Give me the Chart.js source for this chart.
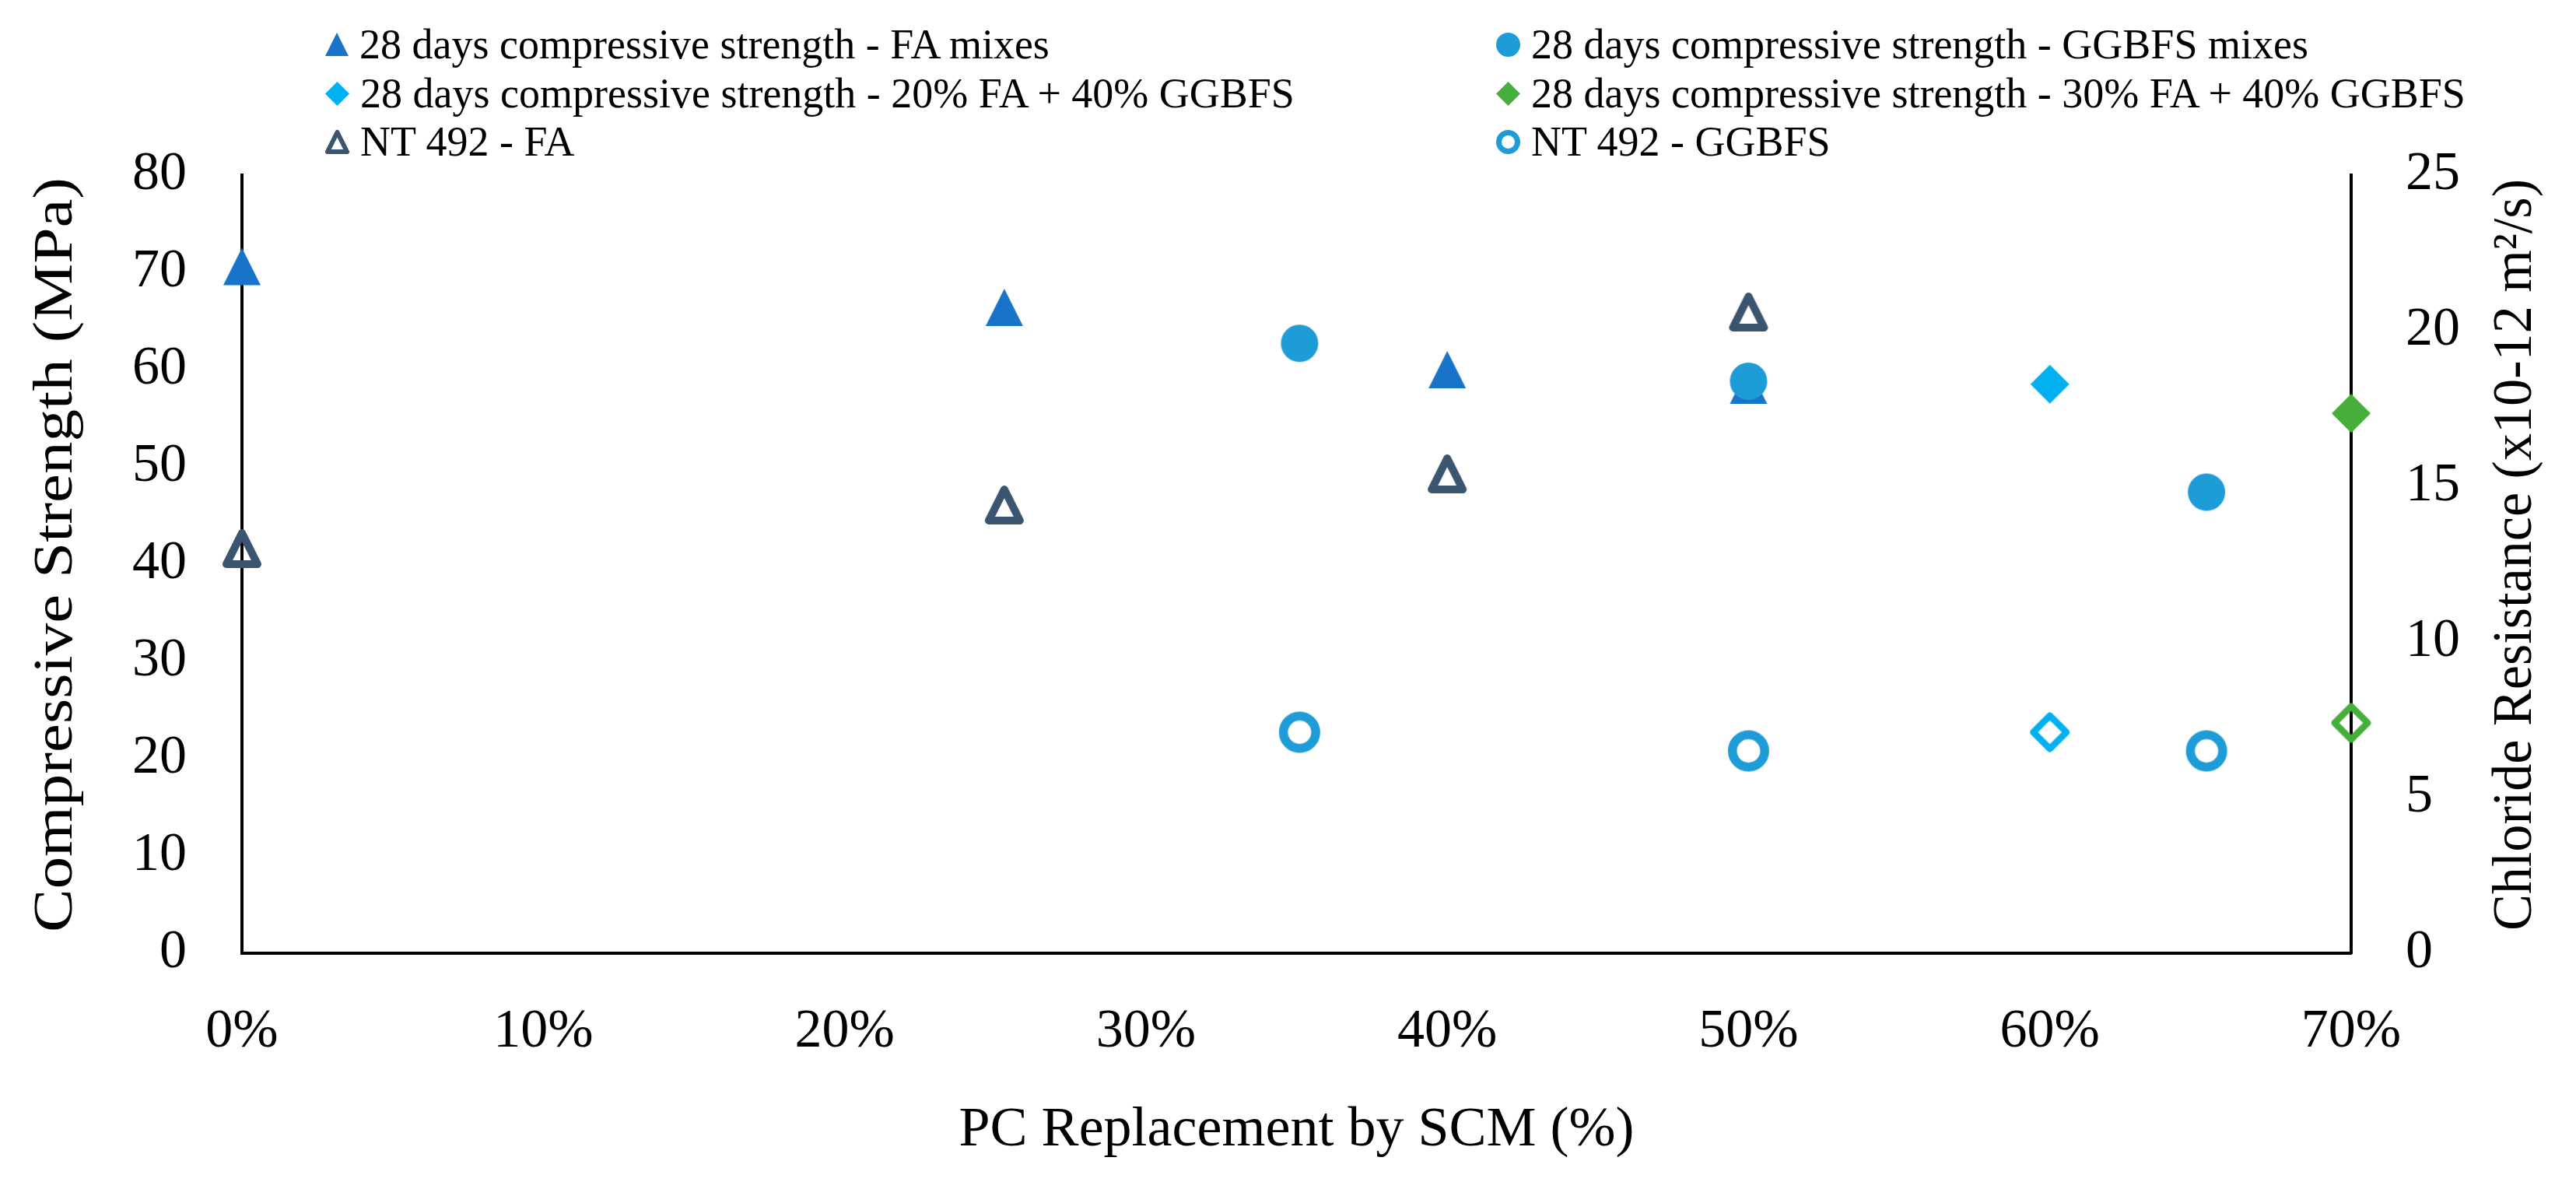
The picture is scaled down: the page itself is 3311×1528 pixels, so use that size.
<!DOCTYPE html>
<html>
<head>
<meta charset="utf-8">
<script src="https://cdn.jsdelivr.net/npm/chart.js@4.4.1/dist/chart.umd.min.js"></script>
<style>
  html, body { margin: 0; padding: 0; background: #fff; }
  #wrap { position: relative; width: 3311px; height: 1528px; }
  #legend { position: absolute; left: 0; top: 0; width: 3311px; height: 225px;
            font-family: "Liberation Serif", serif; font-size: 54px; color: #000; }
  .item { position: absolute; height: 60px; line-height: 60px; white-space: nowrap;
          display: flex; align-items: center; }
  .item img { display: block; margin-right: 12px; }
</style>
</head>
<body>
<div id="wrap">
  <canvas id="grafico"></canvas>
  <div id="legend"></div>
</div>
<script>
// --- data (x = fraction replaced) ---
const faX = [0, 0.253, 0.40, 0.50];
const faStrength = [70.6, 66.4, 60.0, 58.4];
const faChloride = [13.0, 14.4, 15.4, 20.6];

const ggbfsX = [0.351, 0.50, 0.652];
const ggbfsStrength = [62.7, 58.8, 47.4];
const ggbfsChloride = [7.1, 6.5, 6.5];

const blend20X = [0.60];
const blend20Strength = [58.5];
const blend20Chloride = [7.1];

const blend30X = [0.70];
const blend30Strength = [55.5];
const blend30Chloride = [7.4];

const xTickLabels = ["0%", "10%", "20%", "30%", "40%", "50%", "60%", "70%"];
const leftTickLabels = ["0", "10", "20", "30", "40", "50", "60", "70", "80"];
const rightTickLabels = ["0", "5", "10", "15", "20", "25"];

const xTitle = "PC Replacement by SCM (%)";
const leftTitle = "Compressive Strength (MPa)";
const rightTitle = "Chloride Resistance (x10-12 m\u00B2/s)";

// colours
const cFA = "#1874C8";
const cGGBFS = "#1E9CD7";
const cBlend20 = "#00B0F0";
const cBlend30 = "#46AE3B";
const cNTFA = "#3B5470";

// marker drawn into a small canvas, so it sits centred on the point like Excel does
function marker(shape, color, size, hollow, lw) {
  const pad = 2;
  const c = document.createElement("canvas");
  c.width = size + pad * 2;
  c.height = size + pad * 2;
  const g = c.getContext("2d");
  const m = size / 2 + pad;
  const r = size / 2 - (hollow ? lw / 2 : 0);
  g.beginPath();
  if (shape === "triangle") {
    g.moveTo(m, m - r);
    g.lineTo(m + r, m + r);
    g.lineTo(m - r, m + r);
    g.closePath();
  } else if (shape === "circle") {
    g.arc(m, m, r, 0, Math.PI * 2);
  } else {
    g.moveTo(m, m - r);
    g.lineTo(m + r, m);
    g.lineTo(m, m + r);
    g.lineTo(m - r, m);
    g.closePath();
  }
  if (hollow) {
    g.lineWidth = lw;
    g.lineJoin = "round";
    g.strokeStyle = color;
    g.stroke();
  } else {
    g.fillStyle = color;
    g.fill();
  }
  return c;
}

function pts(xs, ys) {
  return xs.map((x, i) => ({ x: x, y: ys[i] }));
}

function serie(label, xs, ys, axis, style, order, inLegend) {
  return {
    label: label,
    data: pts(xs, ys),
    yAxisID: axis,
    pointStyle: style,
    pointRadius: 20,
    pointHoverRadius: 20,
    showLine: false,
    clip: false,
    order: order,
    inLegend: inLegend
  };
}

const datasets = [
  serie("28 days compressive strength - FA mixes", faX, faStrength, "y",
        marker("triangle", cFA, 48, false), 5, true),
  serie("28 days compressive strength - GGBFS mixes", ggbfsX, ggbfsStrength, "y",
        marker("circle", cGGBFS, 48, false), 1, true),
  serie("28 days compressive strength - 20% FA + 40% GGBFS", blend20X, blend20Strength, "y",
        marker("diamond", cBlend20, 50, false), 1, true),
  serie("28 days compressive strength - 30% FA + 40% GGBFS", blend30X, blend30Strength, "y",
        marker("diamond", cBlend30, 50, false), 1, true),
  serie("NT 492 - FA", faX, faChloride, "y2",
        marker("triangle", cNTFA, 50, true, 10), 1, true),
  serie("NT 492 - GGBFS", ggbfsX, ggbfsChloride, "y2",
        marker("circle", cGGBFS, 53, true, 11.5), 1, true),
  serie("NT 492 - 20% FA + 40% GGBFS", blend20X, blend20Chloride, "y2",
        marker("diamond", cBlend20, 51, true, 8.5), 1, false),
  serie("NT 492 - 30% FA + 40% GGBFS", blend30X, blend30Chloride, "y2",
        marker("diamond", cBlend30, 51, true, 8.5), 1, false)
];

// legend (two columns, three rows) with smaller copies of the markers
const legendMarks = [
  marker("triangle", cFA, 30, false),
  marker("circle", cGGBFS, 31, false),
  marker("diamond", cBlend20, 31, false),
  marker("diamond", cBlend30, 31, false),
  marker("triangle", cNTFA, 31, true, 6),
  marker("circle", cGGBFS, 31, true, 7)
];
const legendCols = [416, 1921];
const legendRows = [57, 120, 182];
const legendBox = document.getElementById("legend");
datasets.filter(d => d.inLegend).forEach((d, i) => {
  const item = document.createElement("div");
  item.className = "item";
  item.style.left = legendCols[i % 2] + "px";
  item.style.top = (legendRows[Math.floor(i / 2)] - 30) + "px";
  const img = document.createElement("img");
  img.src = legendMarks[i].toDataURL();
  const span = document.createElement("span");
  span.textContent = d.label;
  item.appendChild(img);
  item.appendChild(span);
  legendBox.appendChild(item);
});

// rotated axis titles, both reading bottom to top
const yTitles = {
  id: "yTitles",
  afterDraw(chart) {
    const ctx = chart.ctx;
    const a = chart.chartArea;
    ctx.save();
    ctx.font = '72px "Liberation Serif"';
    ctx.fillStyle = "#000";
    ctx.textAlign = "center";
    ctx.textBaseline = "middle";
    [[73, leftTitle, 970], [3234, rightTitle, 966]].forEach(([x, t, len]) => {
      const w = ctx.measureText(t).width;
      ctx.save();
      ctx.translate(x, (a.top + a.bottom) / 2 - 12);
      ctx.rotate(-Math.PI / 2);
      ctx.scale(len / w, 1);
      ctx.fillText(t, 0, 0);
      ctx.restore();
    });
    ctx.restore();
  }
};

const tickFont = { family: "Liberation Serif", size: 70 };
const axisBorder = { display: true, color: "#000", width: 4 };

new Chart(document.getElementById("grafico"), {
  type: "scatter",
  data: { datasets: datasets },
  options: {
    responsive: true,
    maintainAspectRatio: false,
    animation: false,
    layout: { padding: { top: 225, left: 0, right: 0, bottom: 0 } },
    plugins: {
      legend: { display: false },
      tooltip: { enabled: false }
    },
    scales: {
      x: {
        type: "linear",
        position: "bottom",
        min: 0,
        max: 0.7,
        grid: { display: false, drawTicks: false },
        border: axisBorder,
        ticks: {
          stepSize: 0.1,
          padding: 60,
          color: "#000",
          font: tickFont,
          callback: v => xTickLabels[Math.round(v * 10)]
        },
        title: {
          display: true,
          text: xTitle,
          color: "#000",
          font: { family: "Liberation Serif", size: 72 },
          padding: { top: 0, bottom: 32 }
        },
        afterFit: s => { s.height = 303; }
      },
      y: {
        position: "left",
        min: 0,
        max: 80,
        grid: { display: false, drawTicks: false },
        border: axisBorder,
        ticks: {
          stepSize: 10,
          padding: 71,
          color: "#000",
          font: tickFont,
          callback: v => leftTickLabels[Math.round(v / 10)]
        },
        afterFit: s => { s.width = 311; }
      },
      y2: {
        position: "right",
        min: 0,
        max: 25,
        grid: { display: false, drawTicks: false },
        border: axisBorder,
        ticks: {
          stepSize: 5,
          padding: 70,
          color: "#000",
          font: tickFont,
          callback: v => rightTickLabels[Math.round(v / 5)]
        },
        afterFit: s => { s.width = 289; }
      }
    }
  },
  plugins: [yTitles]
});
</script>
</body>
</html>
